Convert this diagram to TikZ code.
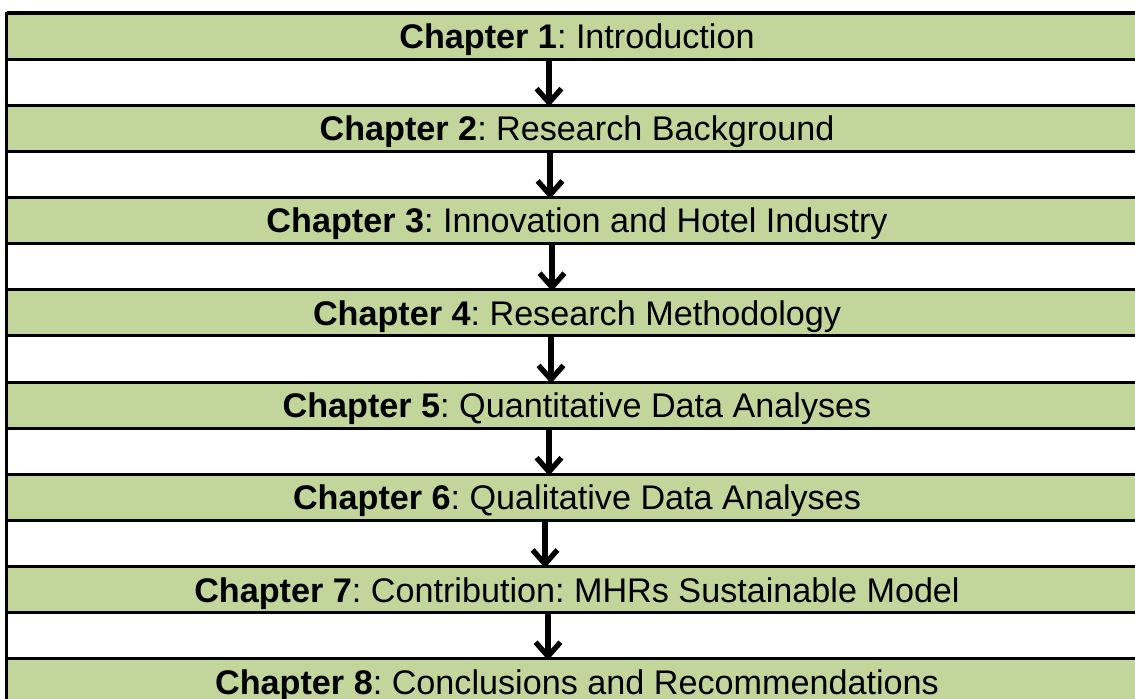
\documentclass[tikz,border=0pt]{standalone}
\usepackage{fontspec}
\setmainfont{Liberation Sans}
\usetikzlibrary{arrows.meta, positioning}
\definecolor{chapgreen}{RGB}{194,214,155}
\frenchspacing

\begin{document}
\begin{tikzpicture}[x=0.025cm, y=-0.025cm,
    row/.style={draw, line width=2.1pt, minimum width=28.5cm, minimum height=1.153cm,
        inner sep=0pt, outer sep=0pt},
    chapter/.style={row, fill=chapgreen, text depth=0pt, font=\fontsize{24.3}{29}\selectfont},
    gap/.style={row, fill=white},
    flow/.style={line width=3.8pt, -{Straight Barb[length=0.35cm, width=0.62cm]}}]
    \useasboundingbox (0,0) rectangle (1135,698);
    \clip (0,0) rectangle (1135,698);

    % chapter rows with an empty row between each pair
    \node[chapter] (c1) at (577,36.07) {\textbf{Chapter 1}: Introduction};
    \node[gap, below=0pt of c1] (g1) {};
    \node[chapter, below=0pt of g1] (c2) {\textbf{Chapter 2}: Research Background};
    \node[gap, below=0pt of c2] (g2) {};
    \node[chapter, below=0pt of g2] (c3) {\textbf{Chapter 3}: Innovation and Hotel Industry};
    \node[gap, below=0pt of c3] (g3) {};
    \node[chapter, below=0pt of g3] (c4) {\textbf{Chapter 4}: Research Methodology};
    \node[gap, below=0pt of c4] (g4) {};
    \node[chapter, below=0pt of g4] (c5) {\textbf{Chapter 5}: Quantitative Data Analyses};
    \node[gap, below=0pt of c5] (g5) {};
    \node[chapter, below=0pt of g5] (c6) {\textbf{Chapter 6}: Qualitative Data Analyses};
    \node[gap, below=0pt of c6] (g6) {};
    \node[chapter, below=0pt of g6] (c7) {\textbf{Chapter 7}: Contribution: MHRs Sustainable Model};
    \node[gap, below=0pt of c7] (g7) {};
    \node[chapter, below=0pt of g7] (c8) {\textbf{Chapter 8}: Conclusions and Recommendations};

    % heavier top rule
    \draw[line width=2.8pt] (c1.north west) -- (c1.north east);

    % arrows through the empty rows
    \foreach \i/\dx in {1/-28,2/-27,3/-25,4/-26,5/-28,6/-32,7/-29}
        \draw[flow] ([xshift=\dx*0.025cm]g\i.north) -- ([xshift=\dx*0.025cm, yshift=-1pt]g\i.south);
\end{tikzpicture}
\end{document}
